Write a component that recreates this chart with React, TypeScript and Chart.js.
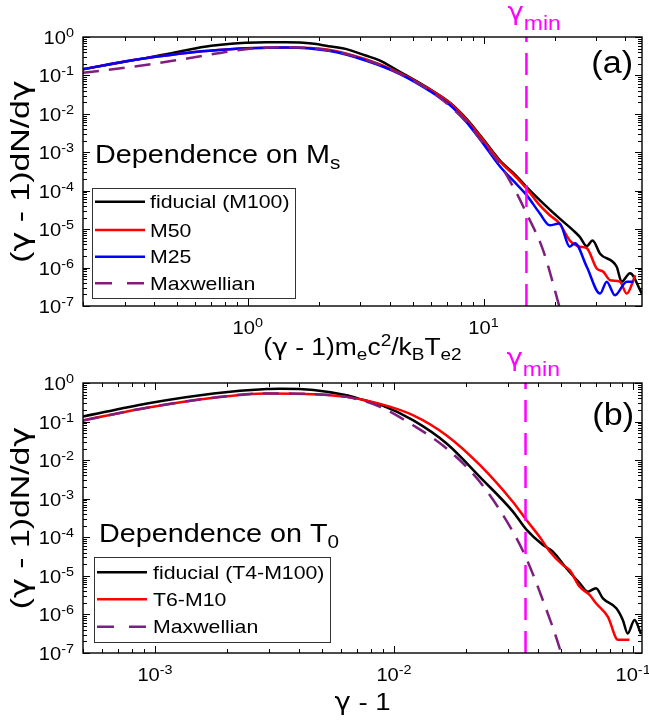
import React, { useEffect, useRef } from "react";
import { Chart, registerables } from "chart.js";

Chart.register(...registerables);

const FONT = '"Liberation Sans", Arial, Helvetica, sans-serif';
const GREEK = '"DejaVu Sans", "Liberation Sans", sans-serif';
const SX = 1.15;

const COLOR_FID = "#000000";
const COLOR_RED = "#FF0000";
const COLOR_BLUE = "#0000FF";
const COLOR_MAX = "#7E1F80";
const COLOR_GMIN = "#FF00FF";

// ---- axes ----
const Y_RANGE = [1e-7, 1];
const Y_EXPONENTS = [0, -1, -2, -3, -4, -5, -6, -7];
const A_X_RANGE = [0.2, 47];
const A_X_EXPONENTS = [0, 1];
const B_X_RANGE = [5e-4, 0.109];
const B_X_EXPONENTS = [-3, -2, -1];
const A_GAMMA_MIN = 15.2;
const B_GAMMA_MIN = 0.0355;

// ---- panel (a): dependence on Ms ----
const aFidX = [0.2, 0.3, 0.368, 0.45, 0.56, 0.7, 0.85, 0.98, 1.2, 1.45, 1.87, 2.2, 2.6, 3.16, 3.6, 4.4, 6.07, 7.16, 8.43, 9.9, 11.7, 13.8, 15.2, 17.9, 21.0, 24.0, 25.6, 27.4, 29.0, 31.2, 36.7, 38.5, 41.8, 46.9];
const aFidY = [0.145, 0.227, 0.282, 0.355, 0.468, 0.589, 0.672, 0.708, 0.73, 0.728, 0.676, 0.575, 0.49, 0.33, 0.251, 0.126, 0.0398, 0.02, 0.0076, 0.0023, 6.3e-4, 2.4e-4, 1.26e-4, 4.7e-5, 1.9e-5, 9.3e-6, 6.3e-6, 3.6e-6, 5.1e-6, 2.3e-6, 1.05e-6, 4.3e-7, 7.1e-7, 2.1e-7];
const aM50X = [0.2, 0.3, 0.368, 0.56, 0.75, 0.98, 1.45, 2.2, 3.16, 4.4, 6.07, 7.16, 8.43, 9.9, 11.7, 13.8, 15.2, 17.3, 19.1, 21.0, 23.2, 25.6, 27.4, 30.2, 32.2, 34.4, 37.9, 40.5, 44.0];
const aM50Y = [0.145, 0.229, 0.279, 0.389, 0.457, 0.507, 0.537, 0.468, 0.263, 0.117, 0.039, 0.0195, 0.00724, 0.00219, 5.9e-4, 2.2e-4, 1.15e-4, 4.2e-5, 2.3e-5, 1.41e-5, 5.1e-6, 3.5e-6, 3.2e-6, 9.5e-7, 7.8e-7, 4.7e-7, 4.3e-7, 2.1e-7, 6.3e-7];
const aM25X = [0.2, 0.3, 0.368, 0.56, 0.75, 0.98, 1.45, 2.2, 3.16, 4.4, 6.07, 7.16, 8.43, 9.9, 11.7, 13.8, 15.2, 17.3, 19.1, 21.0, 23.2, 24.4, 27.4, 31.2, 33.3, 36.1, 40.5, 43.2];
const aM25Y = [0.145, 0.229, 0.279, 0.389, 0.457, 0.507, 0.537, 0.437, 0.245, 0.11, 0.0355, 0.0174, 0.0063, 0.00178, 4.4e-4, 1.48e-4, 7.8e-5, 2.6e-5, 1.26e-5, 1.41e-5, 3.5e-6, 4.3e-6, 1.05e-6, 2.1e-7, 4.3e-7, 1.9e-7, 4.3e-7, 4.3e-7];
const aMaxX = [0.2, 0.368, 0.56, 0.98, 1.45, 2.2, 3.16, 4.4, 6.07, 8.43, 9.9, 11.7, 13.8, 15.2, 17.9, 21.0, 21.8];
const aMaxY = [0.117, 0.186, 0.279, 0.479, 0.54, 0.45, 0.257, 0.112, 0.0363, 0.0063, 0.00182, 5.0e-4, 8.7e-5, 2.6e-5, 2.8e-6, 9.3e-8, 4e-8];

// ---- panel (b): dependence on T0 ----
const bFidX = [5.0e-4, 9.27e-4, 1.76e-3, 2.94e-3, 3.34e-3, 4.6e-3, 6.34e-3, 7.45e-3, 8.75e-3, 1.205e-2, 1.66e-2, 2.29e-2, 3.15e-2, 3.58e-2, 4.2e-2, 4.62e-2, 5.26e-2, 5.98e-2, 6.47e-2, 7.0e-2, 7.48e-2, 8.51e-2, 9.06e-2, 9.5e-2, 0.1014, 0.108];
const bFidY = [0.135, 0.295, 0.537, 0.698, 0.708, 0.661, 0.479, 0.363, 0.275, 0.107, 0.0269, 3.63e-3, 4.57e-4, 1.58e-4, 6.3e-5, 4.27e-5, 1.58e-5, 6.5e-6, 3.9e-6, 4.8e-6, 2.6e-6, 1.45e-6, 7.2e-7, 3.2e-7, 7.2e-7, 3.1e-7];
const bT6X = [5.0e-4, 9.27e-4, 1.76e-3, 2.94e-3, 4.6e-3, 6.34e-3, 8.75e-3, 1.205e-2, 1.66e-2, 2.29e-2, 3.15e-2, 3.58e-2, 4.07e-2, 4.48e-2, 5.09e-2, 5.43e-2, 5.98e-2, 6.58e-2, 7.0e-2, 7.85e-2, 8.65e-2, 9.66e-2];
const bT6Y = [0.107, 0.229, 0.417, 0.537, 0.513, 0.437, 0.288, 0.145, 0.0437, 7.4e-3, 8.1e-4, 2.8e-4, 1.02e-4, 4.27e-5, 1.9e-5, 1.41e-5, 5.2e-6, 3.2e-6, 1.95e-6, 8.7e-7, 2.2e-7, 2.2e-7];
const bMaxX = [5.0e-4, 9.27e-4, 1.76e-3, 2.94e-3, 4.6e-3, 6.34e-3, 8.75e-3, 1.205e-2, 1.66e-2, 2.29e-2, 3.2e-2, 3.58e-2, 4.2e-2, 5.0e-2, 5.3e-2];
const bMaxY = [0.107, 0.229, 0.417, 0.537, 0.513, 0.437, 0.24, 0.0794, 0.02, 2.7e-3, 1.15e-4, 2.8e-5, 2.3e-6, 1.0e-7, 2.5e-8];

const A_LEGEND = ["fiducial (M100)", "M50", "M25", "Maxwellian"];
const B_LEGEND = ["fiducial (T4-M100)", "T6-M10", "Maxwellian"];

type Seg = { t: string; s: number; dy?: number; f?: string };
type Series = { x: number[]; y: number[]; color: string; dash?: number[] };

const MAX_DASH = [16, 10];
const GMIN_DASH = [22, 11];
const LEG_DASH = [17, 15];

function setFont(ctx: CanvasRenderingContext2D, g: Seg) {
  ctx.font = `${g.s}px ${g.f || FONT}`;
}

function richWidth(ctx: CanvasRenderingContext2D, segs: Seg[], sx: number) {
  let w = 0;
  for (const g of segs) {
    setFont(ctx, g);
    w += ctx.measureText(g.t).width * sx;
  }
  return w;
}

function drawRich(ctx: CanvasRenderingContext2D, segs: Seg[], x: number, y: number, align: "left" | "center" | "right", color = "#000", sx = SX) {
  const w = richWidth(ctx, segs, sx);
  let cx = align === "left" ? x : align === "center" ? x - w / 2 : x - w;
  ctx.save();
  ctx.fillStyle = color;
  ctx.textAlign = "left";
  ctx.textBaseline = "alphabetic";
  for (const g of segs) {
    setFont(ctx, g);
    const gw = ctx.measureText(g.t).width;
    ctx.save();
    ctx.translate(cx, y + (g.dy || 0));
    ctx.scale(sx, 1);
    ctx.fillText(g.t, 0, 0);
    ctx.restore();
    cx += gw * sx;
  }
  ctx.restore();
}

function drawRotRich(ctx: CanvasRenderingContext2D, segs: Seg[], bx: number, cy: number, lx: number, thick: number) {
  ctx.save();
  ctx.translate(bx, cy);
  ctx.rotate(-Math.PI / 2);
  ctx.scale(1, thick);
  drawRich(ctx, segs, 0, 0, "center", "#000", lx);
  ctx.restore();
}

function gammaText(pre: string, post: string, s: number): Seg[] {
  return [
    { t: pre, s },
    { t: "γ", s, f: GREEK },
    { t: post, s },
  ];
}

type PanelCfg = {
  top: number;
  height: number;
  pad: { left: number; right: number; top: number; bottom: number };
  xRange: number[];
  xExps: number[];
  gmin: number;
  series: Series[]; // drawn bottom -> top
  legend: { labels: string[]; colors: string[]; dashes: (number[] | null)[]; box: number[]; lineX: number[]; textX: number; rows: number[] };
  note: Seg[];
  noteX: number;
  noteY: number;
  tag: string;
  tagX: number;
  tagY: number;
  xTitle: Seg[];
  xTitleY: number;
  yTitleCY: number;
};

const Y_TITLE: Seg[] = [
  { t: "(", s: 26 },
  { t: "γ", s: 26, f: GREEK },
  { t: " - 1)dN/d", s: 26 },
  { t: "γ", s: 26, f: GREEK },
];

function decor(cfg: PanelCfg) {
  return {
    id: "decor",
    afterDatasetsDraw(chart: any) {
      const ctx: CanvasRenderingContext2D = chart.ctx;
      const a = chart.chartArea;
      const xs = chart.scales.x;
      const ys = chart.scales.y;
      const oy = cfg.top;

      // gamma_min label
      const gx = xs.getPixelForValue(cfg.gmin);
      drawRich(ctx, [{ t: "γ", s: 24, f: GREEK }, { t: "min", s: 20, dy: 10 }], gx - 19, a.top - 17, "left", COLOR_GMIN);

      // frame + inward ticks
      ctx.save();
      ctx.strokeStyle = "#000";
      ctx.lineWidth = 1.4;
      ctx.strokeRect(a.left, a.top, a.right - a.left, a.bottom - a.top);
      ctx.lineWidth = 1;
      ctx.beginPath();
      const [x0, x1] = cfg.xRange;
      for (let k = Math.floor(Math.log10(x0)); k <= Math.ceil(Math.log10(x1)); k++) {
        for (let m = 1; m <= 9; m++) {
          const v = m * Math.pow(10, k);
          if (v < x0 * 0.999 || v > x1 * 1.001) continue;
          const px = Math.round(xs.getPixelForValue(v)) + 0.5;
          const len = m === 1 ? 7 : 4;
          ctx.moveTo(px, a.bottom);
          ctx.lineTo(px, a.bottom - len);
          ctx.moveTo(px, a.top);
          ctx.lineTo(px, a.top + len);
        }
      }
      for (let k = -7; k <= 0; k++) {
        for (let m = 1; m <= 9; m++) {
          const v = m * Math.pow(10, k);
          if (v > 1.0001) continue;
          const py = Math.round(ys.getPixelForValue(v)) + 0.5;
          const len = m === 1 ? 7 : 4;
          ctx.moveTo(a.left, py);
          ctx.lineTo(a.left + len, py);
          ctx.moveTo(a.right, py);
          ctx.lineTo(a.right - len, py);
        }
      }
      ctx.stroke();
      ctx.restore();

      // tick labels
      for (const e of Y_EXPONENTS) {
        const py = ys.getPixelForValue(Math.pow(10, e));
        drawRich(ctx, [{ t: "10", s: 17.5 }, { t: String(e), s: 12.5, dy: -7 }], a.left - 9, py + 7, "right");
      }
      for (const e of cfg.xExps) {
        const px = xs.getPixelForValue(Math.pow(10, e));
        drawRich(ctx, [{ t: "10", s: 17.5 }, { t: String(e), s: 12.5, dy: -7 }], px, a.bottom + 28, "center");
      }

      // axis titles
      drawRich(ctx, cfg.xTitle, (a.left + a.right) / 2, cfg.xTitleY - oy, "center");
      drawRotRich(ctx, Y_TITLE, 29, cfg.yTitleCY - oy, 1.3, 1.0);

      // annotation & tag
      drawRich(ctx, cfg.note, cfg.noteX, cfg.noteY - oy, "left");
      drawRich(ctx, [{ t: cfg.tag, s: 31 }], cfg.tagX, cfg.tagY - oy, "right", "#000", 1.1);

      // legend
      const L = cfg.legend;
      ctx.save();
      ctx.fillStyle = "#fff";
      ctx.fillRect(L.box[0], L.box[1] - oy, L.box[2] - L.box[0], L.box[3] - L.box[1]);
      ctx.strokeStyle = "#333";
      ctx.lineWidth = 1;
      ctx.strokeRect(L.box[0] + 0.5, L.box[1] - oy + 0.5, L.box[2] - L.box[0], L.box[3] - L.box[1]);
      L.labels.forEach((lab, i) => {
        const ry = L.rows[i] - oy;
        ctx.save();
        ctx.strokeStyle = L.colors[i];
        ctx.lineWidth = 2.5;
        ctx.setLineDash(L.dashes[i] || []);
        ctx.beginPath();
        ctx.moveTo(L.lineX[0], ry);
        ctx.lineTo(L.lineX[1], ry);
        ctx.stroke();
        ctx.restore();
        drawRich(ctx, [{ t: lab, s: 18.5 }], L.textX, ry + 6.5, "left");
      });
      ctx.restore();
    },
  };
}

const PANEL_A: PanelCfg = {
  top: 0,
  height: 362,
  pad: { left: 83, right: 7, top: 37, bottom: 56 },
  xRange: A_X_RANGE,
  xExps: A_X_EXPONENTS,
  gmin: A_GAMMA_MIN,
  series: [
    { x: aFidX, y: aFidY, color: COLOR_FID },
    { x: aM50X, y: aM50Y, color: COLOR_RED },
    { x: aM25X, y: aM25Y, color: COLOR_BLUE },
    { x: aMaxX, y: aMaxY, color: COLOR_MAX, dash: MAX_DASH },
  ],
  legend: {
    labels: A_LEGEND,
    colors: [COLOR_FID, COLOR_RED, COLOR_BLUE, COLOR_MAX],
    dashes: [null, null, null, LEG_DASH],
    box: [92, 188, 295, 298],
    lineX: [95, 145],
    textX: 150,
    rows: [201.7, 230, 256.7, 283.3],
  },
  note: [{ t: "Dependence on M", s: 25 }, { t: "s", s: 18, dy: 6 }],
  noteX: 95,
  noteY: 163,
  tag: "(a)",
  tagX: 633,
  tagY: 73,
  xTitle: [
    ...gammaText("(", " - 1)m", 23),
    { t: "e", s: 16.5, dy: 5 },
    { t: "c", s: 23 },
    { t: "2", s: 16.5, dy: -9 },
    { t: "/k", s: 23 },
    { t: "B", s: 16.5, dy: 5 },
    { t: "T", s: 23 },
    { t: "e2", s: 16.5, dy: 5 },
  ],
  xTitleY: 355,
  yTitleCY: 171.5,
};

const PANEL_B: PanelCfg = {
  top: 340,
  height: 381,
  pad: { left: 83, right: 7, top: 43, bottom: 68 },
  xRange: B_X_RANGE,
  xExps: B_X_EXPONENTS,
  gmin: B_GAMMA_MIN,
  series: [
    { x: bFidX, y: bFidY, color: COLOR_FID },
    { x: bT6X, y: bT6Y, color: COLOR_RED },
    { x: bMaxX, y: bMaxY, color: COLOR_MAX, dash: MAX_DASH },
  ],
  legend: {
    labels: B_LEGEND,
    colors: [COLOR_FID, COLOR_RED, COLOR_MAX],
    dashes: [null, null, LEG_DASH],
    box: [94, 557, 330, 642],
    lineX: [97, 147],
    textX: 153,
    rows: [572.3, 599.3, 626.7],
  },
  note: [{ t: "Dependence on T", s: 25 }, { t: "0", s: 18, dy: 6 }],
  noteX: 99,
  noteY: 542,
  tag: "(b)",
  tagX: 634,
  tagY: 425,
  xTitle: gammaText("", " - 1", 24),
  xTitleY: 710,
  yTitleCY: 518,
};

function Panel({ cfg }: { cfg: PanelCfg }) {
  const ref = useRef<HTMLCanvasElement>(null);
  useEffect(() => {
    const gminLine = {
      data: [
        { x: cfg.gmin, y: Y_RANGE[0] },
        { x: cfg.gmin, y: Y_RANGE[1] },
      ],
      borderColor: COLOR_GMIN,
      borderWidth: 2.5,
      borderDash: GMIN_DASH,
      pointRadius: 0,
      fill: false,
    };
    const curves = [...cfg.series].reverse().map((s) => ({
      data: s.x.map((xv, i) => ({ x: xv, y: s.y[i] })),
      borderColor: s.color,
      borderWidth: 2.5,
      borderDash: s.dash || [],
      pointRadius: 0,
      fill: false,
      cubicInterpolationMode: "monotone" as const,
    }));
    const chart = new Chart(ref.current as HTMLCanvasElement, {
      type: "line",
      data: { datasets: [gminLine, ...curves] as any },
      options: {
        responsive: false,
        animation: false,
        devicePixelRatio: 1,
        layout: { padding: cfg.pad },
        scales: {
          x: { type: "logarithmic", min: cfg.xRange[0], max: cfg.xRange[1], display: false },
          y: { type: "logarithmic", min: Y_RANGE[0], max: Y_RANGE[1], display: false },
        },
        plugins: { legend: { display: false }, tooltip: { enabled: false } },
        elements: { point: { radius: 0 } },
      },
      plugins: [decor(cfg)],
    });
    return () => chart.destroy();
  }, []);
  return (
    <canvas
      ref={ref}
      width={649}
      height={cfg.height}
      style={{ position: "absolute", left: 0, top: cfg.top, width: 649, height: cfg.height }}
    />
  );
}

export default function App() {
  return (
    <div style={{ position: "absolute", left: 0, top: 0, width: 649, height: 721, background: "#fff", overflow: "hidden" }}>
      <Panel cfg={PANEL_A} />
      <Panel cfg={PANEL_B} />
    </div>
  );
}
